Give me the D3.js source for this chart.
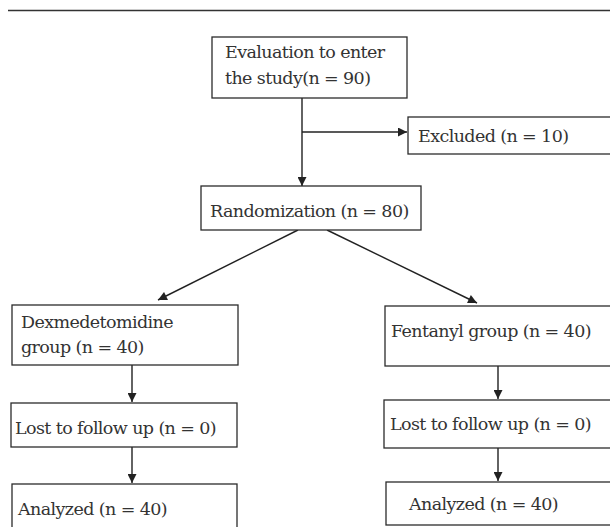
<!DOCTYPE html>
<html>
<head>
<meta charset="utf-8">
<script src="https://cdn.jsdelivr.net/npm/d3@7"></script>
<style>
  body { margin: 0; background: #fff; }
  .box { fill: #fff; stroke: #2b2b2b; stroke-width: 1.3; }
  .lbl { font-family: "DejaVu Serif", "Liberation Serif", serif; font-size: 17.5px; fill: #333; letter-spacing: -0.6px; }
  .link { fill: none; stroke: #222; stroke-width: 1.4; }
</style>
</head>
<body>
<div id="flow"></div>
<script>
// counts
const stageIds = ["eval", "excl", "rand", "dex", "fen", "lostDex", "lostFen", "anDex", "anFen"];
const stageCounts = [90, 10, 80, 40, 40, 0, 0, 40, 40];
const stageLabels = [
  ["Evaluation to enter", "the study(n = COUNT)"],
  ["Excluded (n = COUNT)"],
  ["Randomization (n = COUNT)"],
  ["Dexmedetomidine", "group (n = COUNT)"],
  ["Fentanyl group (n = COUNT)"],
  ["Lost to follow up (n = COUNT)"],
  ["Lost to follow up (n = COUNT)"],
  ["Analyzed (n = COUNT)"],
  ["Analyzed (n = COUNT)"]
];

// layout of the boxes (pixels)
const layout = {
  eval:    {x: 212, y: 37,  w: 195, h: 61,  tx: 13, ty: [21, 47]},
  excl:    {x: 408, y: 117, w: 210, h: 37,  tx: 10, ty: [25]},
  rand:    {x: 201, y: 186, w: 220, h: 44,  tx: 9,  ty: [31]},
  dex:     {x: 12,  y: 305, w: 226, h: 60,  tx: 9,  ty: [23, 48]},
  fen:     {x: 385, y: 306, w: 232, h: 60,  tx: 6,  ty: [31]},
  lostDex: {x: 11,  y: 403, w: 226, h: 44,  tx: 4,  ty: [31]},
  lostFen: {x: 384, y: 400, w: 232, h: 48,  tx: 6,  ty: [30]},
  anDex:   {x: 12,  y: 484, w: 225, h: 60,  tx: 6,  ty: [31]},
  anFen:   {x: 386, y: 482, w: 232, h: 43,  tx: 23, ty: [28]}
};

// connections between boxes
const links = [
  {pts: [[302, 98], [302, 186]], arrow: true},
  {pts: [[302, 132], [407, 132]], arrow: true},
  {pts: [[298, 230], [158, 300]], arrow: true},
  {pts: [[327, 230], [477, 303]], arrow: true},
  {pts: [[132, 365], [132, 402]], arrow: true},
  {pts: [[132, 447], [132, 483]], arrow: true},
  {pts: [[498, 366], [498, 399]], arrow: true},
  {pts: [[498, 448], [498, 481]], arrow: true}
];

const width = 610, height = 527;

const svg = d3.select("#flow")
  .append("svg")
    .attr("width", width)
    .attr("height", height);

svg.append("defs").append("marker")
    .attr("id", "head")
    .attr("viewBox", "0 0 10 10")
    .attr("refX", 10)
    .attr("refY", 5)
    .attr("markerUnits", "userSpaceOnUse")
    .attr("markerWidth", 10)
    .attr("markerHeight", 9)
    .attr("orient", "auto")
  .append("path")
    .attr("d", "M0,0 L10,5 L0,10 Z")
    .attr("fill", "#222");

// top rule
svg.append("line")
    .attr("x1", 8).attr("x2", width)
    .attr("y1", 10.5).attr("y2", 10.5)
    .attr("stroke", "#333")
    .attr("stroke-width", 1.3);

const nodes = stageIds.map((id, i) => ({
  id: id,
  lines: stageLabels[i].map(s => s.replace("COUNT", stageCounts[i])),
  ...layout[id]
}));

const line = d3.line();
svg.append("g")
  .selectAll("path")
  .data(links)
  .join("path")
    .attr("class", "link")
    .attr("d", d => line(d.pts))
    .attr("marker-end", d => d.arrow ? "url(#head)" : null);

const g = svg.append("g")
  .selectAll("g")
  .data(nodes)
  .join("g")
    .attr("transform", d => `translate(${d.x},${d.y})`);

g.append("rect")
    .attr("class", "box")
    .attr("width", d => d.w)
    .attr("height", d => d.h);

g.each(function(d) {
  d3.select(this).selectAll("text")
    .data(d.lines)
    .join("text")
      .attr("class", "lbl")
      .attr("x", d.tx)
      .attr("y", (t, i) => d.ty[i])
      .text(t => t);
});
</script>
</body>
</html>
